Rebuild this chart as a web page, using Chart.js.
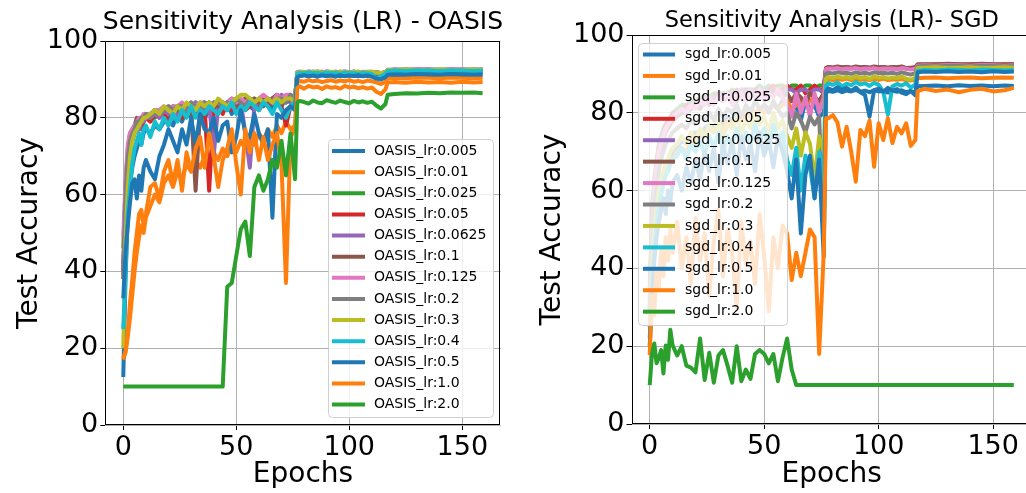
<!DOCTYPE html>
<html>
<head>
<meta charset="utf-8">
<script src="https://cdn.jsdelivr.net/npm/chart.js@4.4.1/dist/chart.umd.min.js"></script>
<style>
  html, body { margin: 0; padding: 0; background: #fff; overflow: hidden; }
  #wrap { position: relative; width: 1026px; height: 493px; overflow: hidden; }
  canvas { position: absolute; top: 0; }
  #left { left: 0; }
  #right { left: 515px; }
</style>
</head>
<body>
<div id="wrap">
  <canvas id="left" width="515" height="493"></canvas>
  <canvas id="right" width="520" height="493"></canvas>
</div>
<script>
const epochs = [0,1,2,3,4,5,6,7,8,9,10,
  12,14,16,18,20,22,24,26,28,30,32,34,36,38,40,42,44,46,48,50,52,54,56,58,60,62,64,66,68,70,72,74,76,
  77,78,80,82,84,86,88,90,92,94,96,98,100,102,104,106,108,110,112,114,116,
  117,120,125,130,135,140,145,150,155,159];

const xTicks = [0, 50, 100, 150];
const lrValues = ['0.005','0.01','0.025','0.05','0.0625','0.1','0.125','0.2','0.3','0.4','0.5','1.0','2.0'];
const oasisNames = lrValues.map(l => 'OASIS_lr:' + l);
const sgdNames = lrValues.map(l => 'sgd_lr:' + l);
const tab10 = ['#1f77b4','#ff7f0e','#2ca02c','#d62728','#9467bd','#8c564b','#e377c2','#7f7f7f','#bcbd22','#17becf'];

// ---- OASIS ----
const oasis_0_005 = [12.5,38,55,63,67,70,72,74,73,76,77,
  76,78,77,79,80,78,81,79,82,80,81,83,80,82,81,83,82,84,81,83,82,84,83,82,84,83,85,82,84,83,85,84,84,
  90.6,90.9,91.1,90.8,91.2,90.9,91.1,90.8,91.2,91.0,90.9,91.2,91.0,91.1,90.8,91.1,90.9,91.0,90.7,90.4,90.8,
  91.5,91.6,91.5,91.7,91.6,91.5,91.7,91.6,91.5,91.6];
const oasis_0_01 = [17,19,23,28,34,40,45,49,52,50,54,
  57,60,58,63,65,62,66,64,68,66,69,67,70,68,71,69,72,70,73,71,74,72,75,73,76,74,77,75,78,76,79,77,78,
  89.3,89.6,89.4,89.8,89.5,89.7,89.3,89.6,89.8,89.4,89.7,89.5,89.8,89.4,89.6,89.3,89.7,89.5,89.2,88.8,89.4,
  90.3,90.4,90.3,90.5,90.4,90.3,90.5,90.4,90.3,90.4];
const oasis_0_025 = [46,62,70,73,75,77,78,79,78,80,80,
  81,80,82,81,82,83,82,83,82,83,84,83,82,84,83,84,83,84,85,84,83,85,84,85,84,85,84,85,86,85,84,85,85,
  91.6,91.8,91.7,91.9,91.8,92.0,91.7,91.9,91.8,92.0,91.7,91.9,91.8,92.0,91.7,91.9,91.8,91.9,91.6,91.5,91.7,
  92.3,92.4,92.3,92.5,92.4,92.3,92.5,92.4,92.5,92.4];
const oasis_0_05 = [40,58,68,72,74,76,77,78,77,79,80,
  79,81,80,82,78,82,81,80,83,81,82,80,83,61,82,83,81,84,82,83,84,82,83,84,82,84,83,85,84,83,78,83,84,
  91.7,91.9,91.8,92.0,91.8,91.9,92.0,91.8,91.9,91.7,92.0,91.8,91.9,91.7,92.0,91.8,91.9,91.7,91.8,91.6,91.8,
  92.4,92.5,92.4,92.6,92.5,92.4,92.6,92.5,92.4,92.5];
const oasis_0_0625 = [42,60,69,73,75,77,78,77,79,79,80,
  80,81,80,82,81,83,80,82,83,82,84,83,82,84,70,83,84,82,84,85,84,76,67,83,84,85,84,85,84,86,85,84,85,
  91.8,91.7,91.9,91.8,92.0,91.7,91.9,91.8,91.7,91.9,91.8,92.0,91.7,91.9,91.8,91.7,91.9,91.8,91.7,91.6,91.8,
  92.3,92.5,92.4,92.3,92.5,92.4,92.3,92.5,92.4,92.3];
const oasis_0_1 = [38,62,72,76,77,78,80,79,80,80,81,
  81,82,81,82,83,82,83,82,83,83,61,82,84,83,84,83,84,82,84,83,84,85,84,85,84,85,84,85,86,85,84,85,85,
  91.7,91.9,91.8,91.9,91.7,92.0,91.8,91.9,91.7,91.9,91.8,91.9,91.7,92.0,91.8,91.9,91.7,91.8,91.9,91.6,91.8,
  92.4,92.4,92.5,92.3,92.5,92.4,92.5,92.3,92.4,92.5];
const oasis_0_125 = [49,64,73,76,77,78,79,80,80,81,81,
  81,82,82,83,82,83,83,84,83,84,83,84,84,83,84,84,83,84,85,84,85,84,85,84,85,86,85,84,86,85,86,86,85,
  91.9,92.0,91.8,92.1,91.9,92.0,91.8,92.1,91.9,92.0,91.8,92.1,91.9,92.0,91.8,92.0,91.9,92.0,91.8,91.7,91.9,
  92.5,92.6,92.5,92.7,92.6,92.5,92.7,92.6,92.5,92.6];
const oasis_0_2 = [39,60,70,74,76,77,79,79,80,80,81,
  80,82,81,82,83,82,83,83,82,84,83,82,84,83,84,84,83,84,83,85,84,83,85,84,85,84,85,84,85,85,84,86,85,
  91.8,92.0,91.9,91.8,92.0,91.9,91.8,92.0,91.9,91.8,92.0,91.9,91.8,92.0,91.9,91.8,92.0,91.9,91.8,91.6,91.9,
  92.4,92.5,92.6,92.4,92.5,92.6,92.4,92.5,92.6,92.5];
const oasis_0_3 = [20,48,62,70,74,76,77,78,79,80,80,
  81,82,81,83,82,81,83,82,84,83,82,84,83,84,83,85,84,83,84,85,86,86,85,84,85,84,85,84,85,84,85,85,84,
  91.8,91.9,92.0,91.8,91.9,92.0,91.8,91.9,92.0,91.8,91.9,92.0,91.8,91.9,92.0,91.8,91.9,92.0,91.8,91.7,91.9,
  92.5,92.4,92.6,92.5,92.4,92.6,92.5,92.4,92.6,92.5];
const oasis_0_4 = [25,40,55,62,68,72,74,76,73,77,78,
  75,79,77,80,78,81,79,82,80,83,80,82,81,83,82,81,83,82,84,81,83,82,84,83,82,84,83,81,84,82,80,83,84,
  91.5,91.7,91.6,91.8,91.6,91.7,91.5,91.8,91.6,91.7,91.5,91.8,91.6,91.7,91.5,91.7,91.6,91.4,90.2,90.8,91.5,
  92.2,92.3,92.2,92.4,92.3,92.2,92.4,92.3,92.2,92.3];
const oasis_0_5 = [33,45,52,58,63,64,59,65,61,67,69,
  66,64,70,73,77,74,71,77,73,80,73,81,77,76,80,74,78,79,71,75,82,76,75,81,76,73,77,54,81,80,82,83,82,
  90.6,90.9,91.1,90.8,91.0,90.7,91.1,90.9,91.0,90.7,91.1,90.8,91.0,90.9,91.1,90.8,91.0,90.7,90.2,90.0,90.6,
  91.2,91.3,91.2,91.4,91.3,91.2,91.4,91.3,91.2,91.3];
const oasis_1_0 = [17.5,19,24,32,38,45,50,55,56,52,55,
  62,63,59,66,69,63,69,61,71,66,72,75,67,76,70,62,69,72,77,68,60,77,71,76,69,75,69,73,76,68,37,75,77,
  87.8,88.2,87.6,88.3,87.9,88.1,87.5,88.2,87.8,88.0,87.6,88.3,87.9,88.1,87.7,88.0,87.6,87.9,86.8,86.2,87.4,
  89.2,89.3,89.1,89.4,89.2,89.3,89.1,89.4,89.2,89.3];
const oasis_2_0 = [10,10,10,10,10,10,10,10,10,10,10,
  10,10,10,10,10,10,10,10,10,10,10,10,10,10,10,10,10,36,37,44,51,53,44,62,65,61,64,69,67,74,65,76,64,
  84.0,84.4,84.1,83.7,84.5,84.0,83.8,84.6,84.2,83.9,84.5,84.1,83.8,84.4,84.0,84.3,83.9,84.2,83.2,82.4,83.6,
  86.0,86.2,86.4,86.3,86.5,86.4,86.6,86.5,86.6,86.4];

// ---- SGD ----
const sgd_0_005 = [30,42,50,55,58,61,63,65,66,68,69,
  71,73,72,74,75,74,76,77,76,78,77,79,78,80,79,80,81,80,81,82,81,82,81,83,82,80,82,78,83,81,82,79,80,
  85.2,85.6,85.4,85.8,85.3,85.7,85.5,85.9,85.4,85.7,85.3,85.8,85.5,85.6,85.2,85.7,85.4,85.8,85.3,85.6,85.1,
  86.8,86.9,87.0,86.8,87.1,86.9,87.0,86.8,87.0,86.9];
const sgd_0_01 = [25,38,46,52,56,59,62,64,65,67,68,
  70,71,70,73,72,75,74,76,75,77,76,78,77,79,78,80,79,80,81,80,81,82,81,82,83,81,82,83,82,83,84,82,83,
  88.3,88.6,88.4,88.7,88.5,88.8,88.4,88.7,88.5,88.6,88.4,88.7,88.5,88.8,88.4,88.6,88.5,88.7,88.4,88.3,88.5,
  88.9,89.0,89.1,88.9,89.0,89.1,88.9,89.0,89.1,89.0];
const sgd_0_025 = [35,55,63,68,72,74,76,77,78,79,80,
  81,82,82,83,83,84,84,84,85,85,85,85,86,85,86,86,86,86,87,86,87,86,87,87,86,87,87,86,87,87,86,87,87,
  91.4,91.6,91.5,91.7,91.5,91.6,91.4,91.7,91.5,91.6,91.4,91.7,91.5,91.6,91.4,91.6,91.5,91.7,91.4,91.5,91.6,
  92.3,92.4,92.3,92.5,92.4,92.3,92.5,92.4,92.3,92.4];
const sgd_0_05 = [32,52,61,67,71,73,75,77,78,78,80,
  80,81,82,82,83,83,84,83,84,85,84,85,85,86,85,86,85,86,86,85,86,87,86,86,87,86,86,87,85,86,87,86,86,
  91.5,91.7,91.6,91.8,91.6,91.7,91.5,91.8,91.6,91.7,91.5,91.8,91.6,91.7,91.5,91.7,91.6,91.8,91.5,91.6,91.7,
  92.4,92.3,92.5,92.4,92.3,92.5,92.4,92.3,92.5,92.4];
const sgd_0_0625 = [30,50,60,66,70,73,75,76,77,78,79,
  80,81,81,82,83,82,84,83,84,84,85,84,85,85,86,85,86,85,86,86,85,86,86,85,86,86,85,86,86,85,86,86,85,
  91.4,91.6,91.5,91.6,91.4,91.7,91.5,91.6,91.4,91.7,91.5,91.6,91.4,91.7,91.5,91.6,91.4,91.6,91.5,91.3,91.5,
  92.2,92.3,92.2,92.4,92.3,92.2,92.4,92.3,92.2,92.3];
const sgd_0_1 = [28,48,58,64,68,71,73,75,76,77,78,
  79,80,80,81,82,81,83,82,83,84,83,84,84,83,85,84,85,84,85,85,84,86,85,84,85,83,85,84,82,85,84,83,85,
  91.5,91.8,91.6,91.9,91.7,91.8,91.6,91.9,91.7,91.8,91.6,91.9,91.7,91.8,91.6,91.8,91.7,91.9,91.5,91.4,91.7,
  92.4,92.5,92.4,92.6,92.5,92.4,92.6,92.5,92.4,92.5];
const sgd_0_125 = [30,50,60,66,70,72,74,76,77,78,79,
  80,81,80,82,81,83,82,84,82,84,83,85,82,84,85,83,85,84,86,83,85,84,86,84,82,79,85,80,84,79,85,80,84,
  91.2,91.4,91.3,91.5,91.2,91.4,91.3,91.5,91.2,91.4,91.3,91.5,91.2,91.4,91.3,91.4,91.2,91.5,91.3,91.1,91.3,
  92.1,92.2,92.1,92.3,92.2,92.1,92.3,92.2,92.1,92.2];
const sgd_0_2 = [28,45,55,61,65,68,70,72,73,74,75,
  76,77,76,78,77,79,78,80,78,81,79,81,80,82,79,82,80,83,81,82,80,83,81,79,80,76,80,78,75,79,77,79,50,
  90.0,90.3,90.1,90.4,90.2,90.3,90.0,90.4,90.1,90.3,90.0,90.4,90.2,90.3,90.1,90.3,90.0,90.4,90.1,89.8,90.2,
  91.9,92.0,91.9,92.1,92.0,91.9,92.1,92.0,91.9,92.0];
const sgd_0_3 = [25,40,50,56,60,63,65,67,68,70,71,
  72,74,72,75,73,76,74,77,75,78,74,77,76,79,75,78,76,80,77,79,75,80,76,78,74,71,76,69,75,72,63,74,70,
  88.8,89.2,88.9,89.3,89.0,89.2,88.8,89.4,88.9,89.2,88.7,89.3,89.0,89.2,88.8,89.1,88.9,89.3,88.8,88.5,89.0,
  91.5,91.6,91.7,91.5,91.6,91.7,91.5,91.6,91.7,91.6];
const sgd_0_4 = [22,35,45,52,56,59,62,64,65,67,68,
  69,71,68,72,70,73,69,74,71,75,70,74,72,76,71,75,72,77,73,76,71,77,73,75,68,64,71,60,69,66,58,70,62,
  87.0,87.6,87.2,87.8,86.8,87.5,87.1,87.9,87.3,87.6,86.9,87.7,87.2,85.5,79.5,86.8,87.4,87.0,87.6,86.5,87.2,
  90.8,91.0,90.9,91.1,91.0,90.9,91.1,91.0,90.9,91.0];
const sgd_0_5 = [20,32,42,48,52,55,58,54,60,57,62,
  64,60,66,62,68,63,70,65,71,62,72,67,73,64,74,68,72,65,75,69,73,66,74,70,65,58,68,49,64,69,58,68,43,
  85.5,86.3,85.8,86.6,85.9,86.4,85.6,86.5,85.3,84.6,79.0,85.8,86.2,85.4,86.4,85.7,86.1,85.2,84.8,85.6,84.5,
  90.4,90.6,90.5,90.7,90.5,90.6,90.4,90.7,90.5,90.6];
const sgd_1_0 = [17.7,33,28,40,35,45,38,48,42,50,44,
  52,40,48,36,53,42,49,33,47,55,38,50,44,30,52,41,47,36,54,43,29,48,40,51,49,37,44,38,44,50,48,18,44,
  78.6,78.6,79.4,77.5,71.3,76.4,70.0,62.3,75.6,74.0,78.0,66.1,77.3,73.0,78.6,72.2,76.4,74.7,77.3,71.5,73.0,
  85.5,86.2,85.6,86.0,85.3,85.9,86.2,85.5,85.8,86.4];
const sgd_2_0 = [10,18,20.7,15.6,17,19,13,20.2,16.5,24.2,20.2,
  17.6,20,15,14.5,13.3,22,11.3,18.3,10.6,17.6,19,15,10.6,20,11,14,11.6,18,19,18,15.6,18,11,17,22,14,10,10,10,10,10,10,10,
  10,10,10,10,10,10,10,10,10,10,10,10,10,10,10,10,10,10,10,10,10,
  10,10,10,10,10,10,10,10,10,10];

const oasisSeries = [oasis_0_005, oasis_0_01, oasis_0_025, oasis_0_05, oasis_0_0625, oasis_0_1,
  oasis_0_125, oasis_0_2, oasis_0_3, oasis_0_4, oasis_0_5, oasis_1_0, oasis_2_0];
const sgdSeries = [sgd_0_005, sgd_0_01, sgd_0_025, sgd_0_05, sgd_0_0625, sgd_0_1,
  sgd_0_125, sgd_0_2, sgd_0_3, sgd_0_4, sgd_0_5, sgd_1_0, sgd_2_0];

const FONT = "'DejaVu Sans', sans-serif";

// frame (all four spines), subplot title and the in-axes legend
const framePlugin = {
  id: 'frame',
  afterDraw(chart, args, opts) {
    const ctx = chart.ctx;
    const a = chart.chartArea;
    ctx.save();
    ctx.strokeStyle = '#000';
    ctx.lineWidth = 1;
    ctx.strokeRect(Math.round(a.left) + 0.5, Math.round(a.top) + 0.5,
      Math.round(a.right - a.left) - 1, Math.round(a.bottom - a.top) - 1);

    ctx.fillStyle = '#000';
    ctx.font = opts.titleSize + 'px ' + FONT;
    ctx.textAlign = 'center';
    ctx.textBaseline = 'alphabetic';
    ctx.fillText(opts.title, (a.left + a.right) / 2, opts.titleY);

    const lg = opts.legend;
    ctx.beginPath();
    ctx.roundRect(lg.x + 0.5, lg.y + 0.5, lg.w, lg.h, 4);
    ctx.fillStyle = 'rgba(255,255,255,0.8)';
    ctx.fill();
    ctx.strokeStyle = '#d0d0d0';
    ctx.lineWidth = 1;
    ctx.stroke();
    ctx.font = '14px ' + FONT;
    ctx.textAlign = 'left';
    ctx.textBaseline = 'middle';
    opts.names.forEach((name, i) => {
      const yy = lg.row0 + i * lg.step;
      ctx.strokeStyle = tab10[i % 10];
      ctx.lineWidth = 4;
      ctx.beginPath();
      ctx.moveTo(lg.lineX0, yy);
      ctx.lineTo(lg.lineX1, yy);
      ctx.stroke();
      ctx.fillStyle = '#000';
      ctx.fillText(name, lg.textX, yy);
    });
    ctx.restore();
  }
};

function makeChart(id, series, names, box) {
  const datasets = series.map((vals, i) => ({
    label: names[i],
    data: epochs.map((e, k) => ({ x: e, y: vals[k] })),
    borderColor: tab10[i % 10],
    backgroundColor: tab10[i % 10],
    borderWidth: 4,
    borderJoinStyle: 'round',
    pointRadius: 0,
    tension: 0,
    fill: false,
    order: series.length - i   // later series on top, as in the original
  }));

  return new Chart(document.getElementById(id), {
    type: 'line',
    data: { datasets },
    options: {
      responsive: false,
      animation: false,
      events: [],
      layout: { padding: { left: 0, top: box.top, right: box.padRight, bottom: 0 } },
      plugins: {
        legend: { display: false },
        tooltip: { enabled: false },
        frame: { title: box.title, titleSize: box.titleSize, titleY: box.titleY, names, legend: box.legend }
      },
      scales: {
        x: {
          type: 'linear',
          min: -7.95,
          max: 166.95,
          afterBuildTicks: s => { s.ticks = xTicks.map(v => ({ value: v })); },
          afterFit: s => { s.height = box.xAxisH; },
          border: { display: false },
          grid: { color: '#b0b0b0', lineWidth: 1, tickColor: '#000', tickLength: 5 },
          ticks: { color: '#000', font: { family: FONT, size: 27 }, padding: 2, maxRotation: 0, autoSkip: false },
          title: { display: true, text: 'Epochs', color: '#000',
                   font: { family: FONT, size: 28, lineHeight: 1 }, padding: { top: 0, bottom: 4 } }
        },
        y: {
          min: 0,
          max: 100,
          afterFit: s => { s.width = box.yAxisW; },
          border: { display: false },
          grid: { color: '#b0b0b0', lineWidth: 1, tickColor: '#000', tickLength: 5 },
          ticks: { stepSize: 20, color: '#000', font: { family: FONT, size: 27 }, padding: 2 },
          title: { display: true, text: 'Test Accuracy', color: '#000',
                   font: { family: FONT, size: 28, lineHeight: 1 }, padding: { top: box.yTitlePad, bottom: 0 } }
        }
      }
    },
    plugins: [framePlugin]
  });
}

makeChart('left', oasisSeries, oasisNames, {
  top: 41, padRight: 14.4, xAxisH: 68, yAxisW: 105.3, yTitlePad: 16,
  title: 'Sensitivity Analysis (LR) - OASIS', titleSize: 25, titleY: 29,
  legend: { x: 328, y: 139, w: 165, h: 278, row0: 151, step: 21.13, lineX0: 332, lineX1: 365, textX: 374 }
});

makeChart('right', sgdSeries, sgdNames, {
  top: 35, padRight: 3, xAxisH: 69, yAxisW: 116.5, yTitlePad: 24,
  title: 'Sensitivity Analysis (LR)- SGD', titleSize: 22.5, titleY: 27,
  legend: { x: 123, y: 43, w: 149, h: 282, row0: 54.5, step: 21.43, lineX0: 128, lineX1: 160, textX: 170 }
});
</script>
</body>
</html>
